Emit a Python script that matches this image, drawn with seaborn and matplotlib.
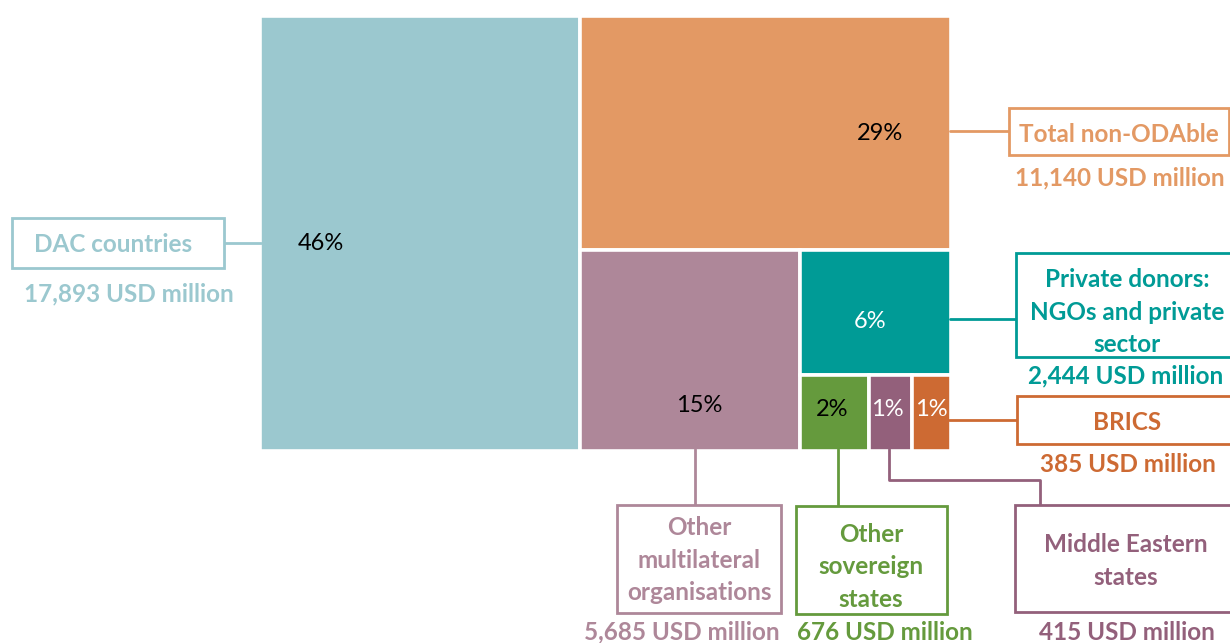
import matplotlib
matplotlib.use("Agg")
import matplotlib.pyplot as plt
from matplotlib.patches import Rectangle
import seaborn as sns

# Data
categories = ["DAC countries", "Total non-ODAble", "Other multilateral organisations",
              "Private donors: NGOs and private sector", "Other sovereign states",
              "Middle Eastern states", "BRICS"]
values = [17893, 11140, 5685, 2444, 676, 415, 385]
box_labels = ["DAC countries", "Total non-ODAble", "Other\nmultilateral\norganisations",
              "Private donors:\nNGOs and private\nsector", "Other\nsovereign\nstates",
              "Middle Eastern\nstates", "BRICS"]
colors = ["#9BC8CF", "#E39964", "#AE8799", "#009B96", "#659A3D", "#93607B", "#CD6A33"]
pct_colors = ["black", "black", "black", "white", "black", "white", "white"]

sns.set_theme(style="white")
plt.rcParams['font.family'] = ['Lato', 'DejaVu Sans']


def layout(vals, x0, y0, x1, y1):
    # simple slice-and-dice treemap in the same arrangement as the original
    total = sum(vals)
    rects = []
    xa = x0 + (x1 - x0) * vals[0] / total
    rects.append((x0, y0, xa, y1))
    rest = total - vals[0]
    yb = y0 + (y1 - y0) * vals[1] / rest
    rects.append((xa, y0, x1, yb))
    rest -= vals[1]
    xc = xa + (x1 - xa) * vals[2] / rest
    rects.append((xa, yb, xc, y1))
    rest -= vals[2]
    yd = yb + (y1 - yb) * vals[3] / rest
    rects.append((xc, yb, x1, yd))
    rest -= vals[3]
    xs = xc
    for v in vals[4:]:
        xe = xs + (x1 - xc) * v / rest
        rects.append((xs, yd, xe, y1))
        xs = xe
    return rects


fig = plt.figure(figsize=(12.3, 6.43), dpi=100)
ax = fig.add_axes([0, 0, 1, 1])
ax.set_xlim(0, 1230)
ax.set_ylim(643, 0)
ax.axis("off")

rects = layout(values, 260, 16, 951, 451)
for r, c in zip(rects, colors):
    ax.bar(r[0], r[3] - r[1], width=r[2] - r[0], bottom=r[1], align="edge",
           color=c, edgecolor="white", linewidth=2.6)

total = sum(values)
pct_pos = [(321, 243), (880, 134), (699, 406), (870, 322), (832, 410), (887, 410), (931, 410)]
for v, (px, py), pc in zip(values, pct_pos, pct_colors):
    ax.text(px, py, f"{round(v / total * 100)}%", ha="center", va="center",
            fontsize=17, color=pc)

# callout boxes: (x0, y0, x1, y1), label centre, value centre
boxes = [
    ((12, 218, 224, 268), (113, 245), (129, 294)),
    ((1009, 108, 1229, 155), (1119, 134), (1120, 178)),
    ((617, 505, 781, 613), (699, 560), (682, 632)),
    ((1016, 253, 1236, 357), (1127, 312), (1126, 376)),
    ((796, 506, 947, 614), (871, 567), (885, 632)),
    ((1015, 505, 1236, 612), (1126, 561), (1127, 633)),
    ((1017, 396, 1236, 444), (1127, 422), (1128, 464)),
]
for (b, (lx, ly), (vx, vy)), lab, v, c in zip(boxes, box_labels, values, colors):
    ax.add_patch(Rectangle((b[0], b[1]), b[2] - b[0], b[3] - b[1], facecolor="white",
                           edgecolor=c, linewidth=2, zorder=3))
    ax.text(lx, ly, lab, ha="center", va="center", fontsize=17.5, fontweight="bold",
            color=c, linespacing=1.5, zorder=4)
    ax.text(vx, vy, f"{v:,} USD million", ha="center", va="center", fontsize=17.5,
            fontweight="bold", color=c, zorder=4)

# connector lines
lw = 2
ax.plot([224, 261], [243, 243], color=colors[0], lw=lw)
ax.plot([950, 1009], [131, 131], color=colors[1], lw=lw)
ax.plot([950, 1016], [319, 319], color=colors[3], lw=lw)
ax.plot([949, 1017], [420, 420], color=colors[6], lw=lw)
ax.plot([695, 695], [449, 505], color=colors[2], lw=lw)
ax.plot([838, 838], [449, 506], color=colors[4], lw=lw)
ax.plot([889, 889, 1040, 1040], [449, 480, 480, 505], color=colors[5], lw=lw)

fig.savefig("out.png", dpi=100)
